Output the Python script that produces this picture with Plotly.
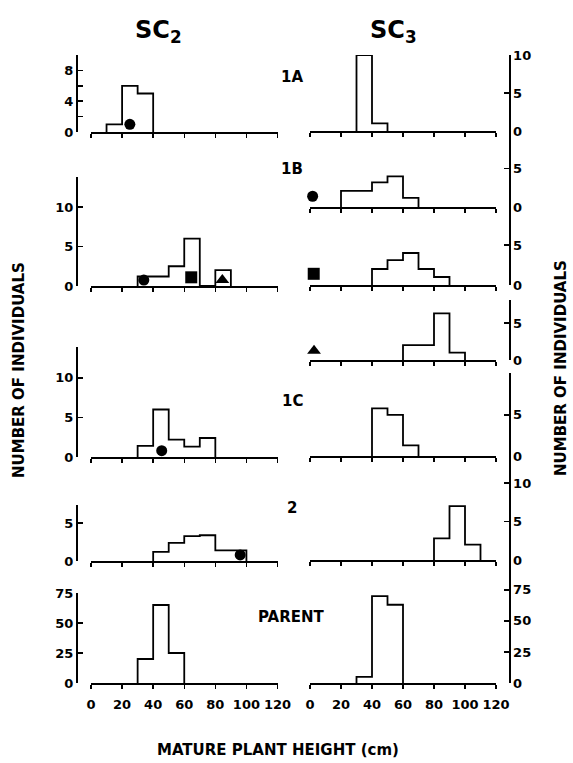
import plotly.graph_objects as go

W, H = 573, 763

# ---------------- data ----------------
bin_edges = [0, 10, 20, 30, 40, 50, 60, 70, 80, 90, 100, 110, 120]
x_ticks = [0, 20, 40, 60, 80, 100, 120]
x_tick_labels = ["0", "20", "40", "60", "80", "100", "120"]

# SC2 histograms (counts per 10-cm bin, 0-120 cm)
sc2_1A = [0, 1, 6, 5, 0, 0, 0, 0, 0, 0, 0, 0]
sc2_1B = [0, 0, 0, 1.2, 1.2, 2.5, 6, 0, 2, 0, 0, 0]
sc2_1C = [0, 0, 0, 1.4, 6, 2.2, 1.3, 2.4, 0, 0, 0, 0]
sc2_2 = [0, 0, 0, 0, 1.2, 2.4, 3.3, 3.4, 1.4, 1.4, 0, 0]
sc2_parent = [0, 0, 0, 20, 65, 25, 0, 0, 0, 0, 0, 0]

# SC3 histograms
sc3_1A = [0, 0, 0, 10, 1, 0, 0, 0, 0, 0, 0, 0]
sc3_1B_circle = [0, 0, 2.1, 2.1, 3.2, 4, 1.2, 0, 0, 0, 0, 0]
sc3_1B_square = [0, 0, 0, 0, 2, 3.1, 4, 2, 1, 0, 0, 0]
sc3_1B_triangle = [0, 0, 0, 0, 0, 0, 2, 2, 6.3, 1, 0, 0]
sc3_1C = [0, 0, 0, 0, 5.8, 5, 1.3, 0, 0, 0, 0, 0]
sc3_2 = [0, 0, 0, 0, 0, 0, 0, 0, 2.8, 7, 2, 0]
sc3_parent = [0, 0, 0, 5, 70, 63, 0, 0, 0, 0, 0, 0]

# family markers (x = height, y = count position)
sc2_1A_circle = ([25], [1])
sc2_1B_circle = ([34], [0.75])
sc2_1B_square = ([64.5], [1.1])
sc2_1B_triangle = ([84.5], [0.75])
sc2_1C_circle = ([45.5], [0.8])
sc2_2_circle = ([96], [0.8])
sc3_circle_mark = ([1.7], [1.4])
sc3_square_mark = ([2.4], [1.4])
sc3_triangle_mark = ([2.6], [1.25])

# y tick labels per panel (major values, labels, minor values)
yt_sc2_1A = ([0, 4, 8], ["0", "4", "8"], [2, 6, 10])
yt_0_5_10 = ([0, 5, 10], ["0", "5", "10"], [])
yt_0_5 = ([0, 5], ["0", "5"], [])
yt_parent = ([0, 25, 50, 75], ["0", "25", "50", "75"], [])

# ---------------- layout (pixels) ----------------
LEFT = dict(x0=91, x1=277.5, axis=76, side="left")
RIGHT = dict(x0=310, x1=496, axis=509, side="right")

panels = [
    dict(col=LEFT, top=55, bot=132, yr=10, yt=yt_sc2_1A, counts=sc2_1A,
         marks=[(sc2_1A_circle, "circle", 11)]),
    dict(col=LEFT, top=177, bot=286, yr=13.8, yt=yt_0_5_10, counts=sc2_1B,
         marks=[(sc2_1B_circle, "circle", 11), (sc2_1B_square, "square", 12),
                (sc2_1B_triangle, "triangle-up", 12)]),
    dict(col=LEFT, top=347, bot=457, yr=13.9, yt=yt_0_5_10, counts=sc2_1C,
         marks=[(sc2_1C_circle, "circle", 11)]),
    dict(col=LEFT, top=505, bot=561, yr=7.4, yt=yt_0_5, counts=sc2_2,
         marks=[(sc2_2_circle, "circle", 11)]),
    dict(col=LEFT, top=593, bot=683, yr=75, yt=yt_parent, counts=sc2_parent,
         marks=[], bottom=True),
    dict(col=RIGHT, top=55, bot=131, yr=10, yt=yt_0_5_10, counts=sc3_1A, marks=[]),
    dict(col=RIGHT, top=131, bot=207, yr=9.9, yt=yt_0_5, counts=sc3_1B_circle,
         marks=[(sc3_circle_mark, "circle", 11)]),
    dict(col=RIGHT, top=207, bot=285, yr=9.75, yt=yt_0_5, counts=sc3_1B_square,
         marks=[(sc3_square_mark, "square", 12)]),
    dict(col=RIGHT, top=300, bot=360, yr=8.1, yt=yt_0_5, counts=sc3_1B_triangle,
         marks=[(sc3_triangle_mark, "triangle-up", 12)]),
    dict(col=RIGHT, top=373, bot=456, yr=10.1, yt=yt_0_5, counts=sc3_1C, marks=[]),
    dict(col=RIGHT, top=456, bot=560, yr=13.5, yt=yt_0_5_10, counts=sc3_2, marks=[]),
    dict(col=RIGHT, top=560, bot=683, yr=99, yt=yt_parent, counts=sc3_parent,
         marks=[], bottom=True),
]

FONT = dict(family="DejaVu Sans", size=13, color="black", weight="bold")


def step_path(edges, counts):
    idx = [i for i, c in enumerate(counts) if c > 0]
    a, b = idx[0], idx[-1]
    xs = [edges[a]] + list(edges[a + 1:b + 2]) + [edges[b + 1]]
    ys = [0] + list(counts[a:b + 1]) + [0]
    return xs, ys


fig = go.Figure()
layout = {}
for i, p in enumerate(panels, start=1):
    xn = "x" if i == 1 else f"x{i}"
    yn = "y" if i == 1 else f"y{i}"
    xk = "xaxis" if i == 1 else f"xaxis{i}"
    yk = "yaxis" if i == 1 else f"yaxis{i}"
    col = p["col"]
    xs, ys = step_path(bin_edges, p["counts"])
    fig.add_trace(go.Scatter(x=xs, y=ys, mode="lines", line_shape="vh",
                             line=dict(color="black", width=1.8),
                             xaxis=xn, yaxis=yn, showlegend=False,
                             hoverinfo="skip", cliponaxis=False))
    for (mx, my), sym, sz in p["marks"]:
        fig.add_trace(go.Scatter(x=mx, y=my, mode="markers",
                                 marker=dict(symbol=sym, size=sz, color="black"),
                                 xaxis=xn, yaxis=yn, showlegend=False,
                                 cliponaxis=False))
    layout[xk] = dict(domain=[col["x0"] / W, col["x1"] / W], range=[0, 120],
                      anchor=yn, showline=True, linecolor="black", linewidth=1.5,
                      ticks="outside", ticklen=4, tickwidth=1.5, tickcolor="black",
                      tickvals=x_ticks, ticktext=x_tick_labels,
                      showticklabels=p.get("bottom", False),
                      ticklabelstandoff=5, automargin=False,
                      showgrid=False, zeroline=False, tickfont=dict(FONT, size=13))
    ydict = dict(domain=[1 - p["bot"] / H, 1 - p["top"] / H], range=[0, p["yr"]],
                 anchor="free", position=col["axis"] / W, side=col["side"],
                 showline=True, linecolor="black", linewidth=1.5,
                 ticks="inside", ticklen=5, tickwidth=1.5, tickcolor="black",
                 tickvals=p["yt"][0], ticktext=p["yt"][1], automargin=False,
                 showgrid=False, zeroline=False, tickfont=dict(FONT, size=13))
    if p["yt"][2]:
        ydict["minor"] = dict(tickvals=p["yt"][2], ticks="inside", ticklen=5,
                              tickwidth=1.5, tickcolor="black", showgrid=False)
    layout[yk] = ydict


def ann(text, px, py, size, angle=0):
    return dict(text=text, x=px / W, y=1 - py / H, xref="paper", yref="paper",
                showarrow=False, textangle=angle, xanchor="center", yanchor="middle",
                font=dict(FONT, size=size))


annotations = [
    ann("SC<sub>2</sub>", 158, 32, 24),
    ann("SC<sub>3</sub>", 393, 32, 24),
    ann("1A", 292, 77, 15),
    ann("1B", 292, 169, 15),
    ann("1C", 292, 401, 15),
    ann("2", 292, 508, 15),
    ann("PARENT", 291, 617, 15),
    ann("NUMBER OF INDIVIDUALS", 19, 370, 15, -90),
    ann("NUMBER OF INDIVIDUALS", 561, 368, 15, -90),
    ann("MATURE PLANT HEIGHT (cm)", 278, 750, 15),
]

fig.update_layout(template="none", width=W, height=H,
                  margin=dict(l=0, r=0, t=0, b=0, pad=0, autoexpand=False),
                  paper_bgcolor="white", plot_bgcolor="white", showlegend=False,
                  hovermode=False,
                  annotations=annotations, font=FONT, **layout)

fig.write_html("out.html",
               config={"displayModeBar": False, "staticPlot": True},
               post_script="document.body.style.margin='0';document.body.style.padding='0';")
